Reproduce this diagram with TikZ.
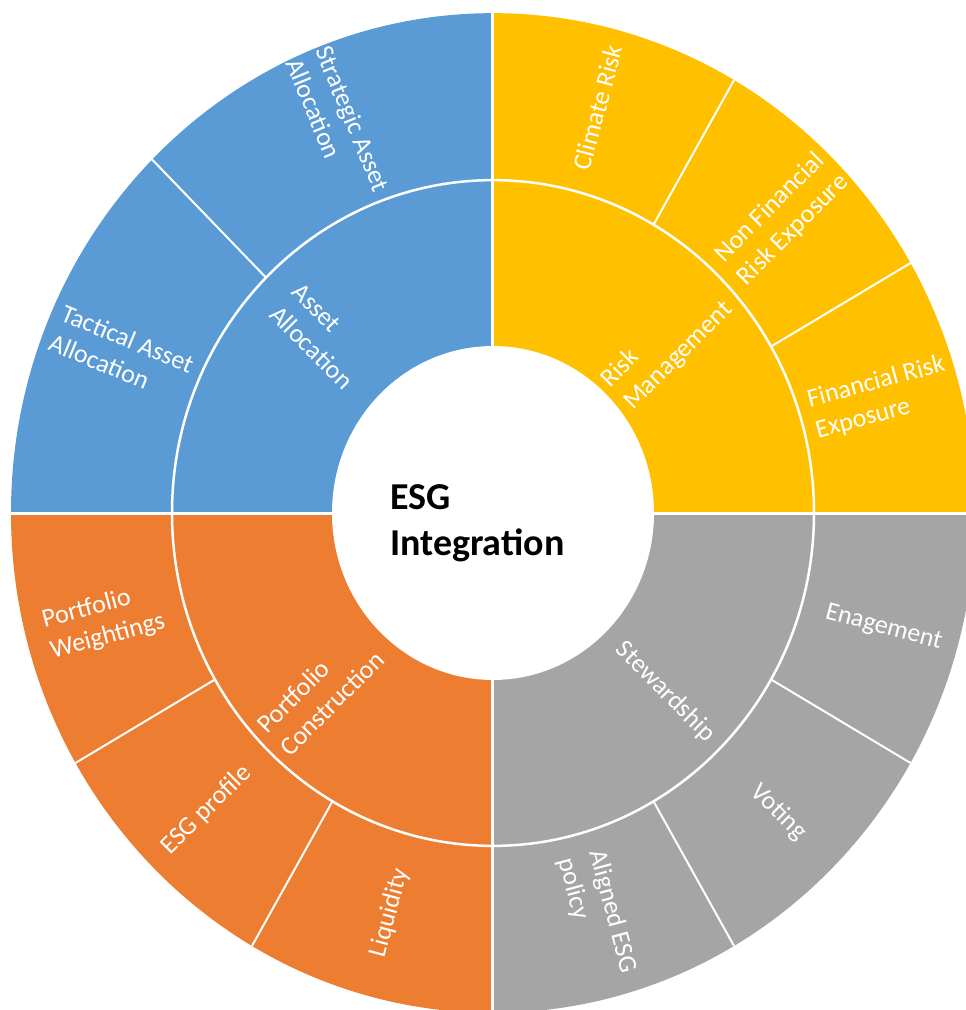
\documentclass[tikz,border=0pt]{standalone}
\usepackage{fontspec}
\setmainfont{Carlito}
\usepackage{tikz}

\definecolor{allocblue}{HTML}{5B9BD5}
\definecolor{riskyellow}{HTML}{FFC000}
\definecolor{constrorange}{HTML}{ED7D31}
\definecolor{stewgrey}{HTML}{A5A5A5}

\newcommand{\segfont}{\fontsize{26}{32}\selectfont}
\newcommand{\hubfont}{\fontsize{38}{46}\selectfont\bfseries}

\tikzstyle{seglabel} = [text=white, align=left, font=\segfont, inner sep=0pt]
\tikzstyle{hublabel} = [text=black, align=left, font=\hubfont, inner sep=0pt]
\tikzstyle{ringline} = [white, line width=2.5pt]
\tikzstyle{divider} = [white, line width=2pt]
\tikzstyle{axisline} = [white, line width=3pt]

\begin{document}
\begin{tikzpicture}
    \useasboundingbox (-493pt,-497pt) rectangle (473pt,513pt);
    \clip (-493pt,-497pt) rectangle (473pt,513pt);
    \begin{scope}[yscale=1.037]
    % quarters
    \fill [allocblue] (0,0) -- (90:482pt) arc [start angle=90, end angle=180, radius=482pt] -- cycle;
    \fill [riskyellow] (0,0) -- (0:482pt) arc [start angle=0, end angle=90, radius=482pt] -- cycle;
    \fill [stewgrey] (0,0) -- (270:482pt) arc [start angle=270, end angle=360, radius=482pt] -- cycle;
    \fill [constrorange] (0,0) -- (180:482pt) arc [start angle=180, end angle=270, radius=482pt] -- cycle;
    % rings and dividers
    \draw [axisline] (-482pt,0) -- (482pt,0);
    \draw [axisline] (0,-482pt) -- (0,482pt);
    \draw [ringline] (0,0) circle [radius=321pt];
    \draw [divider] (135:321pt) -- (135:482pt);
    \draw [divider] (60:321pt) -- (60:482pt);
    \draw [divider] (30:321pt) -- (30:482pt);
    \draw [divider] (-30:321pt) -- (-30:482pt);
    \draw [divider] (-60:321pt) -- (-60:482pt);
    \draw [divider] (210:321pt) -- (210:482pt);
    \draw [divider] (240:321pt) -- (240:482pt);
    \fill [white] (0,0) circle [radius=161pt];
    % inner ring
    \node [seglabel, rotate=-45] at (135:241pt) (assetalloc) {Asset\\Allocation};
    \node [seglabel, rotate=45] at (43:238pt) (riskmgmt) {Risk\\Management};
    \node [seglabel, rotate=45] at (225:244pt) (portcon) {Portfolio\\Construction};
    \node [seglabel, rotate=-45] at (-45:244pt) (steward) {Stewardship};
    % outer ring
    \node [seglabel, rotate=-67.5] at (112.5:405pt) (strategic) {Strategic Asset\\Allocation};
    \node [seglabel, rotate=-22.5] at (157.5:402pt) (tactical) {Tactical Asset\\Allocation};
    \node [seglabel, rotate=75] at (75:405pt) (climate) {Climate Risk};
    \node [seglabel, rotate=45] at (44.5:405pt) (nonfinrisk) {Non Financial\\Risk Exposure};
    \node [seglabel, rotate=15] at (16:403pt) (finrisk) {Financial Risk\\Exposure};
    \node [seglabel, rotate=-15] at (-15.8:406pt) (engage) {Enagement};
    \node [seglabel, rotate=-45] at (-45.3:406pt) (voting) {Voting};
    \node [seglabel, rotate=-75] at (-75:402pt) (aligned) {Aligned ESG\\policy};
    \node [seglabel, rotate=75] at (255:399pt) (liquidity) {Liquidity};
    \node [seglabel, rotate=45] at (225:405pt) (esgprofile) {ESG profile};
    \node [seglabel, rotate=15] at (195:403pt) (weightings) {Portfolio\\Weightings};
    \end{scope}
    % hub
    \node [hublabel, anchor=north west] at (-103pt,29pt) (hub) {ESG\\Integration};
\end{tikzpicture}
\end{document}
